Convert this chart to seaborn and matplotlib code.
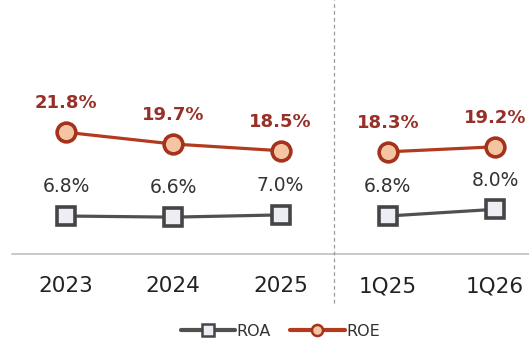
import matplotlib
matplotlib.use("Agg")
import matplotlib.pyplot as plt
from matplotlib.lines import Line2D
import seaborn as sns
import pandas as pd

# Period labels and the two profitability ratios (%)
periods = ["2023", "2024", "2025", "1Q25", "1Q26"]
segments = ["annual", "annual", "annual", "quarter", "quarter"]
roa = [6.8, 6.6, 7.0, 6.8, 8.0]
roe = [21.8, 19.7, 18.5, 18.3, 19.2]

df = pd.DataFrame({
    "period": periods * 2,
    "pos": list(range(len(periods))) * 2,
    "segment": segments * 2,
    "metric": ["ROA"] * len(periods) + ["ROE"] * len(periods),
    "value": roa + roe,
})

sns.set_theme(style="white")
plt.rcParams["font.family"] = ["DejaVu Sans"]

styles = {
    "ROA": dict(color="#505050", marker="s", mfc="#eceef4", mec="#454545",
                label_color="#333333", weight="normal", size=13.5),
    "ROE": dict(color="#b23b1f", marker="o", mfc="#f4c4a3", mec="#a5321b",
                label_color="#973028", weight="bold", size=13),
}

fig = plt.figure(figsize=(5.29, 3.40), dpi=100)
ax = fig.add_axes([0, 0.253, 1, 0.747])

for metric, st in styles.items():
    for seg in ["annual", "quarter"]:
        sub = df[(df.metric == metric) & (df.segment == seg)]
        sns.lineplot(data=sub, x="pos", y="value", ax=ax, color=st["color"],
                     linewidth=2.3, marker=st["marker"], markersize=13.5,
                     markerfacecolor=st["mfc"], markeredgecolor=st["mec"],
                     markeredgewidth=2.6, legend=False, zorder=3)
    sub = df[df.metric == metric]
    for x, v in zip(sub.pos, sub.value):
        ax.annotate(f"{v:.1f}%", (x, v), xytext=(0, 21), textcoords="offset points",
                    ha="center", va="center", color=st["label_color"],
                    fontsize=st["size"], fontweight=st["weight"])

ax.set_xlim(-0.6154, 4.317)
ax.set_ylim(0, 45.5)
ax.set_xticks(range(len(periods)))
ax.set_xticklabels(periods, fontsize=15.5, color="#222222")
ax.tick_params(axis="x", length=0, pad=16)
ax.set_yticks([])
ax.set_xlabel("")
ax.set_ylabel("")
for sp in ax.spines.values():
    sp.set_visible(False)

# Baseline and the annual / quarterly divider
ax.axhline(0, xmin=12 / 529, xmax=1, color="#c4c4c4", lw=1.3, clip_on=False, zorder=1)
ax.axvline(2.5, ymin=-0.193, ymax=1, color="#9a9a9a", lw=0.9,
           linestyle=(0, (3, 2.5)), clip_on=False, zorder=1)

handles = [
    Line2D([], [], color=styles[m]["color"], lw=3, marker=styles[m]["marker"],
           markersize=8, markerfacecolor=styles[m]["mfc"],
           markeredgecolor=styles[m]["mec"], markeredgewidth=1.8)
    for m in ["ROA", "ROE"]
]
fig.legend(handles, ["ROA", "ROE"], loc="center", bbox_to_anchor=(0.53, 0.025),
           ncol=2, frameon=False, fontsize=11.5, handlelength=3.4,
           handletextpad=0.1, columnspacing=1.2, labelcolor="#333333")

fig.savefig("out.png", dpi=100)
